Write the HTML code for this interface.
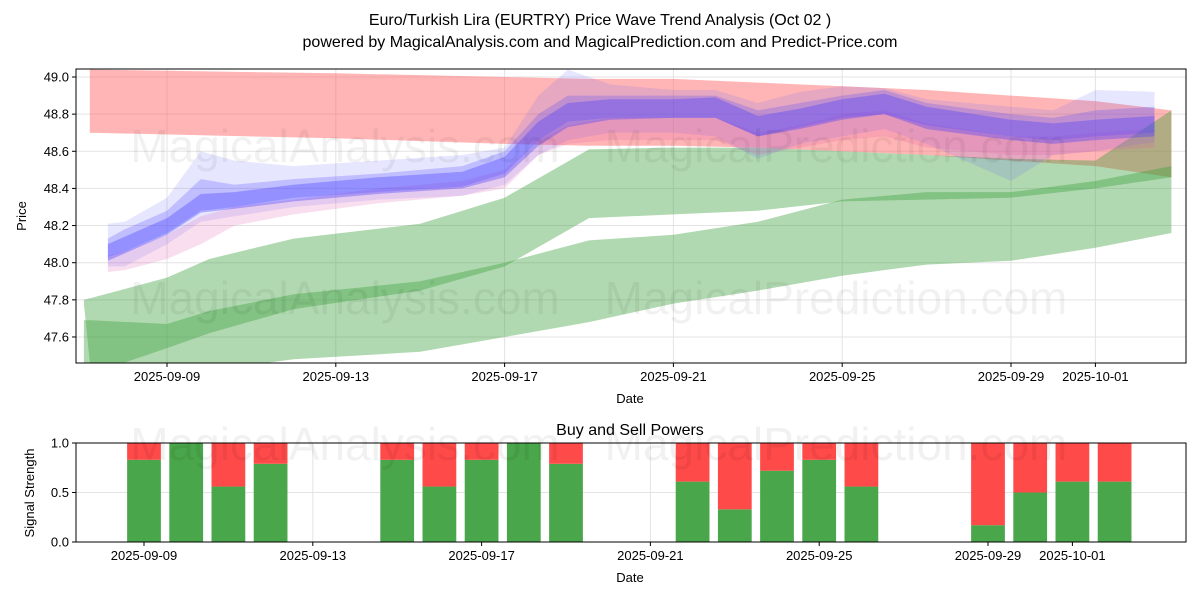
<!DOCTYPE html>
<html><head><meta charset="utf-8">
<style>
html,body{margin:0;padding:0;background:#fff;}
svg{display:block;font-family:"Liberation Sans","DejaVu Sans",sans-serif;}
</style></head>
<body>
<svg id="c" width="1200" height="600" viewBox="0 0 1200 600" xmlns="http://www.w3.org/2000/svg">
<text x="600" y="25" text-anchor="middle" font-size="16">Euro/Turkish Lira (EURTRY) Price Wave Trend Analysis (Oct 02 )</text>
<text x="600" y="47" text-anchor="middle" font-size="16">powered by MagicalAnalysis.com and MagicalPrediction.com and Predict-Price.com</text>
<text x="630" y="435" text-anchor="middle" font-size="16">Buy and Sell Powers</text>
<g id="topchart"></g>
<g id="botchart"></g>
</svg>
<script>
// ---- price chart data (d = days since 2025-09-09) ----
const redD = [-1.83,4,8,10,12,14,16,18,20,22,23.8];
const redUp = [49.04,49.02,49.0,48.99,48.99,48.97,48.95,48.93,48.90,48.87,48.82];
const redLo = [48.70,48.67,48.64,48.63,48.63,48.62,48.60,48.58,48.55,48.52,48.46];
const grD = [-1.97,-1.8,0,1,3,6,8,10,12,14,16,18,20,22,23.8];
const grAUp = [47.80,47.81,47.92,48.02,48.13,48.21,48.35,48.61,48.62,48.62,48.60,48.58,48.56,48.55,48.82];
const grALo = [47.78,47.40,47.54,47.62,47.75,47.85,47.98,48.24,48.26,48.28,48.33,48.34,48.35,48.40,48.46];
const grBUp = [47.69,47.69,47.67,47.74,47.83,47.90,48.00,48.12,48.15,48.22,48.34,48.38,48.38,48.44,48.52];
const grBLo = [47.40,47.40,47.40,47.42,47.48,47.52,47.60,47.68,47.78,47.85,47.93,47.99,48.01,48.08,48.16];
const wD = [-1.4,-1,0,0.8,1.6,3,5,7,8,8.8,9.5,10.5,12,13,14,15,16,17,18,20,21,22,23.4];
const b1Up = [48.10,48.14,48.24,48.37,48.38,48.42,48.46,48.49,48.57,48.76,48.86,48.88,48.88,48.89,48.79,48.83,48.88,48.91,48.84,48.77,48.75,48.77,48.79];
const b1Lo = [48.01,48.05,48.15,48.27,48.29,48.33,48.37,48.40,48.46,48.63,48.73,48.77,48.78,48.78,48.68,48.72,48.77,48.80,48.72,48.66,48.64,48.66,48.68];
const b2Up = [48.21,48.22,48.35,48.60,48.55,48.52,48.55,48.58,48.62,48.90,49.04,48.96,48.93,48.93,48.86,48.92,48.95,48.94,48.88,48.84,48.82,48.93,48.92];
const b2Lo = [47.98,47.98,48.10,48.22,48.25,48.30,48.34,48.36,48.42,48.58,48.66,48.70,48.70,48.68,48.56,48.64,48.68,48.72,48.64,48.44,48.58,48.60,48.65];
const b3Up = [48.04,48.06,48.15,48.25,48.30,48.34,48.40,48.44,48.50,48.66,48.74,48.78,48.78,48.78,48.70,48.74,48.80,48.82,48.75,48.68,48.68,48.70,48.72];
const b3Lo = [47.95,47.96,48.02,48.10,48.20,48.26,48.32,48.36,48.40,48.58,48.64,48.66,48.66,48.66,48.58,48.62,48.66,48.68,48.62,48.58,48.58,48.60,48.62];
const b4Up = [48.13,48.18,48.28,48.45,48.42,48.45,48.48,48.52,48.60,48.80,48.90,48.90,48.90,48.90,48.82,48.86,48.90,48.93,48.86,48.80,48.78,48.82,48.84];
const b4Lo = [48.03,48.06,48.16,48.28,48.30,48.35,48.38,48.41,48.48,48.66,48.76,48.78,48.78,48.78,48.68,48.73,48.78,48.80,48.74,48.68,48.66,48.68,48.70];
const yTicks = [47.6,47.8,48.0,48.2,48.4,48.6,48.8,49.0];
const xTickDays = [0,4,8,12,16,20,22];
const xTickLabels = ["2025-09-09","2025-09-13","2025-09-17","2025-09-21","2025-09-25","2025-09-29","2025-10-01"];
// ---- signal chart data ----
const barDays = [0,1,2,3,6,7,8,9,10,13,14,15,16,17,20,21,22,23];
const buyVals = [0.83,1.0,0.56,0.79,0.83,0.56,0.83,1.0,0.79,0.61,0.33,0.72,0.83,0.56,0.17,0.5,0.61,0.61];
const sigTicks = [0,0.5,1.0];

const NS="http://www.w3.org/2000/svg";
function mk(tag,attrs,parent){const e=document.createElementNS(NS,tag);for(const k in attrs)e.setAttribute(k,attrs[k]);parent.appendChild(e);return e;}
const L=76,R=1186;
const T0=69,T1=363;
function xT(d){return 167+42.2*d;}
function yT(p){return 77+(49-p)*185.7;}
const topG=document.getElementById('topchart');
const botG=document.getElementById('botchart');
const svgRoot=document.getElementById('c');
const defsEl=mk('defs',{},topG);
const cpEl=mk('clipPath',{id:'cpt'},defsEl);
mk('rect',{x:L,y:T0,width:R-L,height:T1-T0},cpEl);
yTicks.forEach(function(v){
  const gl=mk('line',{x1:L,x2:R,y1:yT(v),y2:yT(v),stroke:'#e3e3e3','stroke-width':1},topG);
  
  
  const tx=mk('text',{x:L-7,y:yT(v)+4.5,'text-anchor':'end','font-size':13},topG);tx.textContent=v.toFixed(1);
  
  
  mk('line',{x1:L-4,x2:L,y1:yT(v),y2:yT(v),stroke:'#000'},topG);
});
xTickDays.forEach(function(d,i){
  const gl=mk('line',{x1:xT(d),x2:xT(d),y1:T0,y2:T1,stroke:'#e3e3e3','stroke-width':1},topG);
  
  
  mk('line',{x1:xT(d),x2:xT(d),y1:T1,y2:T1+4,stroke:'#000'},topG);
  const tx=mk('text',{x:xT(d),y:T1+18,'text-anchor':'middle','font-size':13},topG);tx.textContent=xTickLabels[i];
  
  
});
const bandG=mk('g',{'clip-path':'url(#cpt)'},topG);
function band(ds,up,lo,fill,name){
  const pts=ds.map(function(d,i){return xT(d).toFixed(1)+','+yT(up[i]).toFixed(1);});
  for(let i=ds.length-1;i>=0;i--)pts.push(xT(ds[i]).toFixed(1)+','+yT(lo[i]).toFixed(1));
  const p=mk('polygon',{points:pts.join(' '),fill:fill},bandG);
  
  
}
band(redD,redUp,redLo,'rgba(255,90,90,0.45)','red-band');
band(grD,grAUp,grALo,'rgba(60,160,60,0.4)','green-band-upper');
band(grD,grBUp,grBLo,'rgba(60,160,60,0.4)','green-band-lower');
band(wD,b2Up,b2Lo,'rgba(90,90,255,0.15)','wave-band-wide');
band(wD,b3Up,b3Lo,'rgba(220,90,170,0.2)','wave-band-pink');
band(wD,b4Up,b4Lo,'rgba(80,70,255,0.25)','wave-band-mid');
band(wD,b1Up,b1Lo,'rgba(70,60,255,0.35)','wave-band-core');
mk('rect',{x:L,y:T0,width:R-L,height:T1-T0,fill:'none',stroke:'#000','stroke-width':1},topG);
let tt=mk('text',{x:630,y:T1+40,'text-anchor':'middle','font-size':13},topG);tt.textContent='Date';


tt=mk('text',{x:26,y:216,'text-anchor':'middle','font-size':13,transform:'rotate(-90 26 216)'},topG);tt.textContent='Price';


// bottom axes
const B0=443,B1=542;
function xB(d){return 144+42.2*d;}
function yB(v){return B1-v*(B1-B0);}
sigTicks.forEach(function(v){
  const gl=mk('line',{x1:L,x2:R,y1:yB(v),y2:yB(v),stroke:'#e3e3e3'},botG);
  
  
  mk('line',{x1:L-4,x2:L,y1:yB(v),y2:yB(v),stroke:'#000'},botG);
  const tx=mk('text',{x:L-7,y:yB(v)+4.5,'text-anchor':'end','font-size':13},botG);tx.textContent=v.toFixed(1);
  
  
});
xTickDays.forEach(function(d,i){
  const gl=mk('line',{x1:xB(d),x2:xB(d),y1:B0,y2:B1,stroke:'#e3e3e3'},botG);
  
  
  mk('line',{x1:xB(d),x2:xB(d),y1:B1,y2:B1+4,stroke:'#000'},botG);
  const tx=mk('text',{x:xB(d),y:B1+18,'text-anchor':'middle','font-size':13},botG);tx.textContent=xTickLabels[i];
  
  
});
barDays.forEach(function(d,i){
  const w=0.8*42.2, x=xB(d)-w/2;
  const gb=mk('rect',{x:x,y:yB(buyVals[i]),width:w,height:yB(0)-yB(buyVals[i]),fill:'#4aa64a'},botG);
  
  
  const rb=mk('rect',{x:x,y:yB(1),width:w,height:yB(buyVals[i])-yB(1),fill:'#ff4a4a'},botG);
  
  
});
mk('rect',{x:L,y:B0,width:R-L,height:B1-B0,fill:'none',stroke:'#000'},botG);
tt=mk('text',{x:630,y:B1+40,'text-anchor':'middle','font-size':13},botG);tt.textContent='Date';


tt=mk('text',{x:34,y:493,'text-anchor':'middle','font-size':13,transform:'rotate(-90 34 493)'},botG);tt.textContent='Signal Strength';


// watermarks
[[345,162,'MagicalAnalysis.com'],[836,162,'MagicalPrediction.com'],[345,314,'MagicalAnalysis.com'],[836,314,'MagicalPrediction.com'],[345,460,'MagicalAnalysis.com'],[836,460,'MagicalPrediction.com']].forEach(function(w){
  const tx=mk('text',{x:w[0],y:w[1],'text-anchor':'middle','font-size':46,fill:'rgba(0,0,0,0.055)'},svgRoot);tx.textContent=w[2];
  
  
});
</script>
</body></html>
